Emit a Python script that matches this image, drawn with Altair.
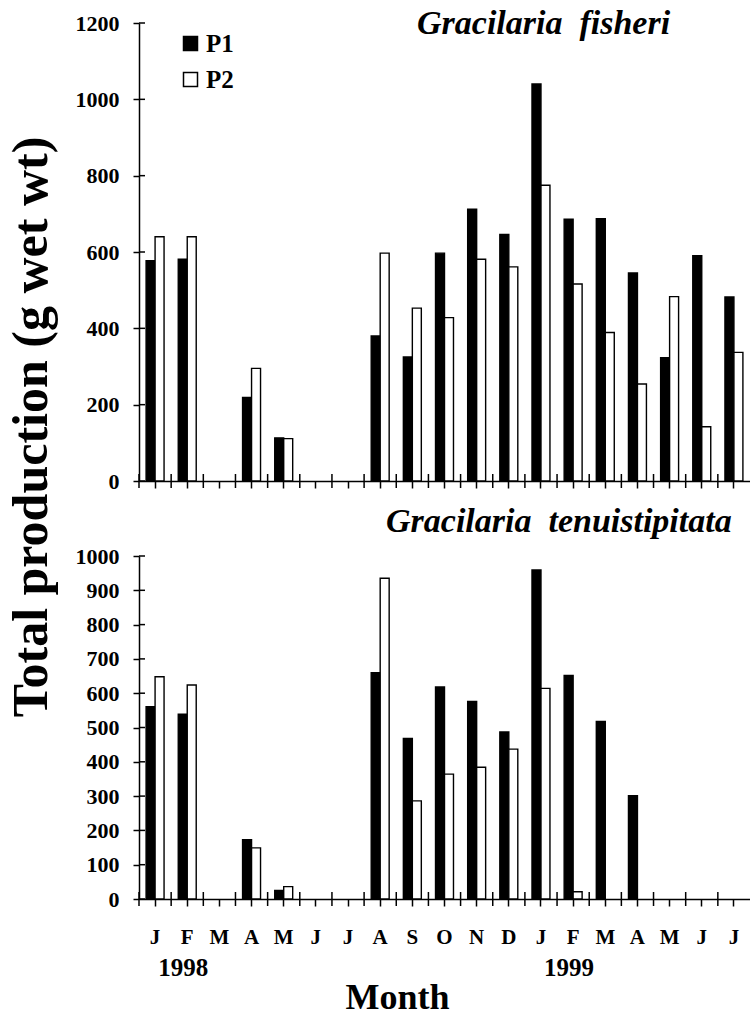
import json
import altair as alt
import pandas as pd

# ---- data ----
MONTHS = ["J", "F", "M", "A", "M", "J", "J", "A", "S", "O", "N", "D",
          "J", "F", "M", "A", "M", "J", "J"]
FISHERI_P1 = [577, 581, None, 219, 113, None, None, 380, 325, 597, 712, 646,
              1040, 686, 687, 545, 323, 590, 482]
FISHERI_P2 = [640, 640, None, 295, 111, None, None, 597, 453, 428, 581, 561,
              775, 516, 389, 254, 483, 142, 337]
TENUI_P1 = [561, 539, None, 173, 25, None, None, 660, 468, 618, 576, 487,
            959, 652, 518, 301, None, None, None]
TENUI_P2 = [648, 624, None, 149, 36, None, None, 935, 286, 364, 384, 437,
            614, 21, None, None, None, None, None]
SERIES = ["P1", "P2"]
YEARS = ["1998", "1999"]
YEAR_SLOTS = [1, 13]
TOP_TICKS = [0, 200, 400, 600, 800, 1000, 1200]
BOTTOM_TICKS = [0, 100, 200, 300, 400, 500, 600, 700, 800, 900, 1000]

FONT = "Liberation Serif"
W = 611
H1 = 458
H2 = 343


def records(p1, p2):
    rows = []
    for i, (a, b) in enumerate(zip(p1, p2)):
        if a is not None:
            rows.append({"slot": i, "series": "P1", "value": a})
        if b is not None:
            rows.append({"slot": i, "series": "P2", "value": b})
    return pd.DataFrame(rows)


slots_df = pd.DataFrame({"slot": list(range(len(MONTHS)))})
x_scale = alt.Scale(domain=list(range(len(MONTHS))), paddingInner=0, paddingOuter=0)
label_expr = json.dumps(MONTHS) + "[datum.value]"


def panel(p1, p2, ticks, H, title_text, tx, ty, bottom, legend):
    df = records(p1, p2)
    yscale = alt.Scale(domain=[ticks[0], ticks[-1]], nice=False)
    common_axis = dict(domainColor="black", domainWidth=1.5, tickColor="black",
                       tickWidth=1.5, grid=False)
    if bottom:
        xaxis = alt.Axis(labels=True, labelExpr=label_expr, labelAngle=0,
                         labelFont=FONT, labelFontSize=21, labelFontWeight="bold",
                         labelColor="black", labelPadding=20, tickSize=7,
                         bandPosition=0.5, title="Month", titleFont=FONT,
                         titleFontSize=36, titleFontWeight="bold", titleColor="black",
                         titleX=258, titleY=81, titleBaseline="top",
                         titleAlign="center", **common_axis)
    else:
        xaxis = alt.Axis(labels=False, title=None, tickSize=7, bandPosition=0.5,
                         **common_axis)
    yaxis = alt.Axis(values=ticks, title=None, format="d", labelFont=FONT,
                     labelFontSize=22, labelFontWeight="bold", labelColor="black",
                     labelPadding=14, tickSize=6, labelFlush=False,
                     labelOverlap=False, **common_axis)
    if legend:
        leg = alt.Legend(orient="none", legendX=39, legendY=8, title=None,
                         symbolType="square", symbolSize=196,
                         symbolStrokeColor="black", symbolStrokeWidth=1.5,
                         labelFont=FONT, labelFontSize=25, labelFontWeight="bold",
                         labelColor="black", rowPadding=10, labelOffset=3, padding=0)
    else:
        leg = None
    bars = alt.Chart(df).mark_bar(stroke="black", strokeWidth=1.4).encode(
        x=alt.X("slot:O", scale=x_scale, axis=xaxis),
        xOffset=alt.XOffset("series:N", scale=alt.Scale(domain=SERIES, paddingInner=0,
                                                        paddingOuter=0.79)),
        y=alt.Y("value:Q", scale=yscale, axis=yaxis),
        fill=alt.Fill("series:N", scale=alt.Scale(domain=SERIES, range=["black", "white"]),
                      legend=leg),
    )
    ytick_in = alt.Chart(pd.DataFrame({"value": ticks})).mark_rule(
        color="black", strokeWidth=1.5).encode(
        y=alt.Y("value:Q", scale=yscale, axis=yaxis), x=alt.value(0), x2=alt.value(6))
    xtick_b = alt.Chart(slots_df).mark_rule(color="black", strokeWidth=1.5).encode(
        x=alt.X("slot:O", bandPosition=0, scale=x_scale, axis=xaxis),
        y=alt.value(H - 7), y2=alt.value(H + 7))
    title = alt.Chart(pd.DataFrame({"t": [title_text]})).mark_text(
        font=FONT, fontSize=34, fontWeight="bold", fontStyle="italic",
        align="left", baseline="alphabetic", color="black").encode(
        text="t:N", x=alt.value(tx), y=alt.value(ty))
    layers = [bars, ytick_in, xtick_b, title]
    if bottom:
        years = alt.Chart(pd.DataFrame({"slot": YEAR_SLOTS, "year": YEARS})).mark_text(
            font=FONT, fontSize=25, fontWeight="bold", align="center", baseline="top",
            color="black", dx=12).encode(
            x=alt.X("slot:O", bandPosition=0, scale=x_scale, axis=xaxis),
            y=alt.value(H + 57), text="year:N")
        layers.append(years)
    else:
        ytitle = alt.Chart(pd.DataFrame({"t": ["Total production (g wet wt)"]})).mark_text(
            font=FONT, fontSize=50, fontWeight="bold", angle=270, align="center",
            baseline="alphabetic", color="black").encode(
            text="t:N", x=alt.value(-92), y=alt.value(404))
        layers.append(ytitle)
    return alt.layer(*layers).properties(width=W, height=H)


top = panel(FISHERI_P1, FISHERI_P2, TOP_TICKS, H1, "Gracilaria \u00a0fisheri",
            278, 11, False, True)
bottom = panel(TENUI_P1, TENUI_P2, BOTTOM_TICKS, H2, "Gracilaria \u00a0tenuistipitata",
               247, -24, True, False)

chart = alt.vconcat(top, bottom, spacing=75, bounds="flush").resolve_scale(
    y="independent", fill="independent").resolve_legend(fill="independent").properties(
    padding={"left": 6, "top": 7, "right": 0, "bottom": 0}
).configure(background="white").configure_view(stroke=None)

chart.save("out.html", embed_options={"renderer": "svg", "actions": False})
